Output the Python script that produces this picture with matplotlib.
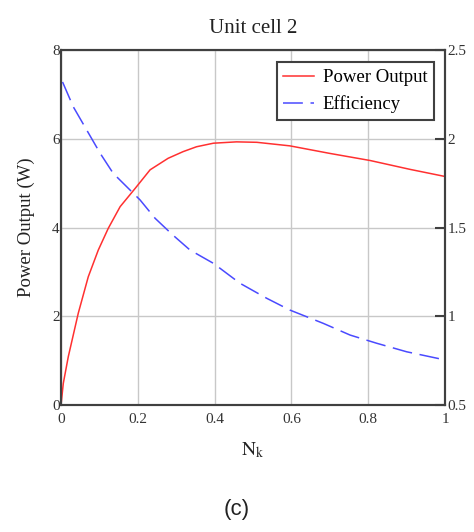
import matplotlib
matplotlib.use("Agg")
import matplotlib.pyplot as plt

# values
nk_power = [0, 0.006, 0.019, 0.045, 0.071, 0.097, 0.123, 0.154, 0.193,
            0.232, 0.279, 0.318, 0.353, 0.397, 0.457, 0.51, 0.596, 0.70,
            0.805, 0.909, 1.0]
power = [0, 0.49, 1.09, 2.07, 2.89, 3.49, 3.98, 4.47, 4.88,
         5.30, 5.56, 5.71, 5.82, 5.90, 5.93, 5.92, 5.84, 5.67,
         5.51, 5.31, 5.15]

nk_eff = [0.004, 0.032, 0.067, 0.102, 0.136, 0.171, 0.206, 0.245, 0.29,
          0.336, 0.397, 0.466, 0.536, 0.596, 0.683, 0.753, 0.822, 0.90, 1.0]
efficiency = [2.32, 2.18, 2.049, 1.918, 1.805, 1.73, 1.655, 1.552, 1.46,
              1.373, 1.298, 1.186, 1.101, 1.035, 0.96, 0.894, 0.848, 0.80, 0.754]

x_ticks = [0, 0.2, 0.4, 0.6, 0.8, 1]
x_labels = ["0", "0.2", "0.4", "0.6", "0.8", "1"]
left_ticks = [0, 2, 4, 6, 8]
right_ticks = [0.5, 1, 1.5, 2, 2.5]
right_labels = ["0.5", "1", "1.5", "2", "2.5"]

plt.rcParams["font.family"] = "Liberation Serif"
plt.rcParams["mathtext.fontset"] = "stix"

fig = plt.figure(figsize=(4.74, 5.32), dpi=100)
ax = fig.add_axes([0.1287, 0.2387, 0.8101, 0.6673])
ax2 = ax.twinx()

spine_col = "#404040"
grid_col = "#c8c8c8"

line_p, = ax.plot(nk_power, power, color="#ff3030", lw=1.1, label="Power Output")
line_e, = ax2.plot(nk_eff, efficiency, color="#4a4aff", lw=1.1,
                   dashes=(13, 5), label="Efficiency")

ax.set_xlim(0, 1)
ax.set_ylim(0, 8)
ax2.set_ylim(0.5, 2.5)

ax.set_xticks(x_ticks)
ax.set_xticklabels(x_labels)
ax.set_yticks(left_ticks)
ax2.set_yticks(right_ticks)
ax2.set_yticklabels(right_labels)

ax.grid(True, color=grid_col, lw=1)
ax.set_axisbelow(True)

ax.tick_params(axis="x", length=0, pad=6, labelsize=11, labelcolor="#333333")
ax.tick_params(axis="y", length=0, pad=1, labelsize=11, labelcolor="#333333")
ax2.tick_params(axis="y", direction="in", length=7, width=1.5, color=spine_col,
                pad=2, labelsize=11, labelcolor="#333333")

for a in (ax, ax2):
    for s in a.spines.values():
        s.set_color(spine_col)
        s.set_linewidth(1.5)

ax.set_title("Unit cell 2", fontsize=15, pad=12, color="#222222")
ax.set_ylabel("Power Output (W)", fontsize=13.5, labelpad=12, color="#222222")
ax.set_xlabel(r"$\mathrm{N_k}$", fontsize=14, labelpad=10, color="#222222")

leg = ax2.legend(handles=[line_p, line_e], loc="upper right",
                 bbox_to_anchor=(0.971, 0.965), borderaxespad=0,
                 fontsize=13.5, frameon=True, fancybox=False,
                 handlelength=1.65, handletextpad=0.45,
                 borderpad=0.35, labelspacing=0.5)
leg.get_frame().set_edgecolor(spine_col)
leg.get_frame().set_linewidth(1.5)
leg.get_frame().set_alpha(1)

fig.text(0.5, 0.042, "(c)", ha="center", va="center", fontsize=16,
         family="Liberation Sans", color="#222222")

fig.savefig("out.png", dpi=100)
